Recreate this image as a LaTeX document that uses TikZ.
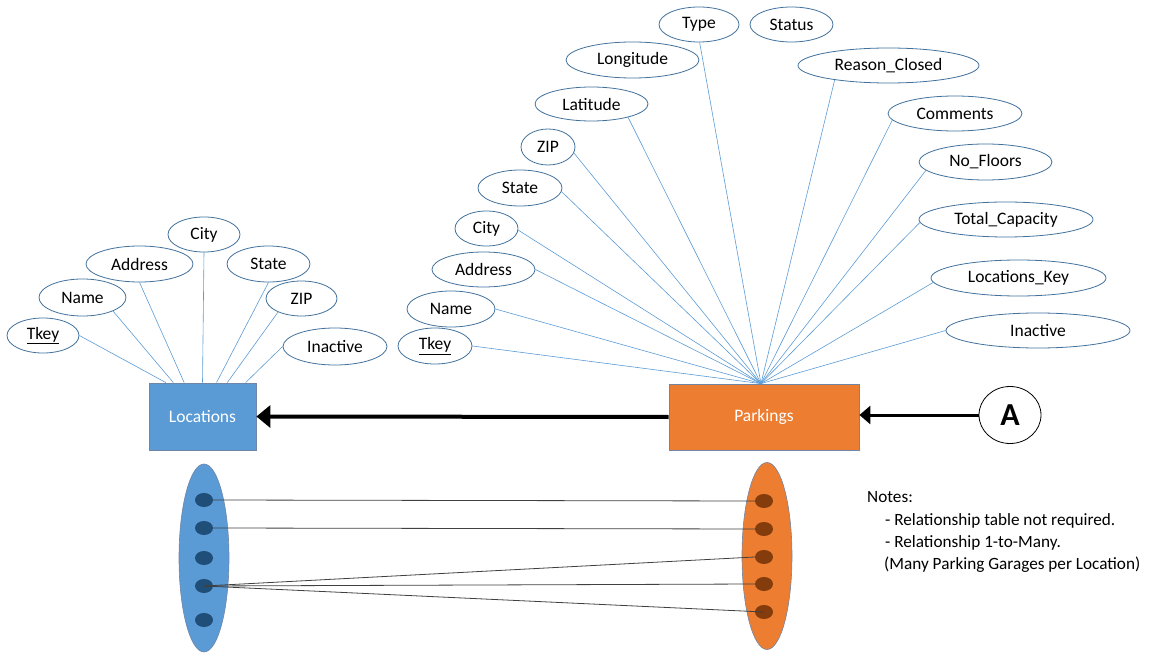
\documentclass[tikz,border=0pt]{standalone}
\usepackage{fontspec}
\setmainfont{Carlito}
\usetikzlibrary{shapes.geometric,arrows.meta,calc}
\definecolor{accblue}{HTML}{5B9BD5}
\definecolor{accorange}{HTML}{ED7D31}
\definecolor{bordblue}{HTML}{41719C}
\definecolor{rectbord}{HTML}{6F86A6}
\definecolor{dotblue}{HTML}{1F4E79}
\definecolor{dotbrown}{HTML}{843C0C}
\definecolor{linkgray}{HTML}{404040}
\begin{document}
\begin{tikzpicture}[x=1pt,y=-1pt,
  attr/.style={ellipse,draw=bordblue,line width=0.8pt,fill=white,inner sep=0pt,
    font=\fontsize{17.5}{20}\selectfont},
  entity/.style={rectangle,draw=rectbord,line width=0.8pt,inner sep=0pt,text=white,
    font=\fontsize{17.5}{20}\selectfont},
  link/.style={draw=accblue,line width=0.6pt},
  setell/.style={ellipse,draw=rectbord,line width=0.6pt,inner sep=0pt,minimum width=50pt},
  bdot/.style={ellipse,fill=dotblue,inner sep=0pt,minimum width=18pt,minimum height=14pt},
  odot/.style={ellipse,fill=dotbrown,inner sep=0pt,minimum width=18pt,minimum height=14pt},
  pair/.style={draw=linkgray,line width=0.8pt},
  rel/.style={draw=black,line width=4pt,-{Triangle[length=14pt,width=22pt]}},
  relA/.style={draw=black,line width=3pt,-{Triangle[length=11pt,width=18pt]}},
  note/.style={anchor=base west,inner sep=0pt,font=\fontsize{17.2}{20}\selectfont}]
\useasboundingbox (0,0) rectangle (1160,655);

% ---------- Locations entity ----------
\node[entity,fill=accblue,minimum width=107pt,minimum height=67pt] (loc) at (202.5,416.5) {Locations};
\node[attr,minimum width=72pt,minimum height=35pt] (ltk) at (43,335.5) {\underline{Tkey}};
\node[attr,minimum width=87pt,minimum height=37pt] (lname) at (82.5,297.5) {Name};
\node[attr,minimum width=107pt,minimum height=36pt] (laddr) at (139.5,264) {Address};
\node[attr,minimum width=72pt,minimum height=35pt] (lcity) at (204,234.5) {City};
\node[attr,minimum width=83pt,minimum height=36pt] (lstate) at (268.5,264) {State};
\node[attr,minimum width=71pt,minimum height=35pt] (lzip) at (301.5,298.5) {ZIP};
\node[attr,minimum width=104pt,minimum height=37pt] (linact) at (335,346.5) {Inactive};

\coordinate (t1) at ($(loc.north west)!0.16!(loc.north east)$);
\coordinate (t2) at ($(loc.north west)!0.23!(loc.north east)$);
\coordinate (t3) at ($(loc.north west)!0.33!(loc.north east)$);
\coordinate (t4) at ($(loc.north west)!0.50!(loc.north east)$);
\coordinate (t5) at ($(loc.north west)!0.63!(loc.north east)$);
\coordinate (t6) at ($(loc.north west)!0.73!(loc.north east)$);
\coordinate (t7) at ($(loc.north west)!0.90!(loc.north east)$);
\draw[link] (ltk.east) -- (t1);
\draw[link] (lname.336) -- (t2);
\draw[link] (laddr.south) -- (t3);
\draw[link] (lcity.south) -- (t4);
\draw[link] (lstate.south) -- (t5);
\draw[link] (lzip.210) -- (t6);
\draw[link] (linact.west) -- (t7);

% ---------- Parkings entity ----------
\node[entity,fill=accorange,minimum width=190pt,minimum height=66pt] (park) at (764,417) {Parkings};
\coordinate (hub) at ($(park.north west)!0.484!(park.north east)$);

\node[attr,minimum width=80pt,minimum height=35pt] (type) at (699,24.5) {Type};
\node[attr,minimum width=83pt,minimum height=35pt] (status) at (791.5,24.5) {Status};
\node[attr,minimum width=133pt,minimum height=36pt] (long) at (632.5,60) {Longitude};
\node[attr,minimum width=113pt,minimum height=34pt] (lat) at (591.5,104) {Latitude};
\node[attr,minimum width=54pt,minimum height=36pt] (pzip) at (548,147) {ZIP};
\node[attr,minimum width=84pt,minimum height=36pt] (pstate) at (520,188) {State};
\node[attr,minimum width=63pt,minimum height=35pt] (pcity) at (486.5,228.5) {City};
\node[attr,minimum width=103pt,minimum height=35pt] (paddr) at (483.5,269.5) {Address};
\node[attr,minimum width=88pt,minimum height=36pt] (pname) at (451,309) {Name};
\node[attr,minimum width=74pt,minimum height=36pt] (ptk) at (435,346) {\underline{Tkey}};
\node[attr,minimum width=181pt,minimum height=35pt] (reason) at (888.5,65.5) {Reason\_Closed};
\node[attr,minimum width=134pt,minimum height=35pt] (comments) at (955,113.5) {Comments};
\node[attr,minimum width=133pt,minimum height=36pt] (floors) at (985.5,162) {No\_Floors};
\node[attr,minimum width=174pt,minimum height=35pt] (cap) at (1006,219.5) {Total\_Capacity};
\node[attr,minimum width=175pt,minimum height=36pt] (lockey) at (1018.5,278) {Locations\_Key};
\node[attr,minimum width=184pt,minimum height=35pt] (pinact) at (1038,330.5) {Inactive};

\draw[link] (type.272) -- (hub);
\draw[link] (lat.340) -- (hub);
\draw[link] (pzip.347) -- (hub);
\draw[link] (pstate.355) -- (hub);
\draw[link] (pcity.357) -- (hub);
\draw[link] (paddr.east) -- (hub);
\draw[link] (pname.east) -- (hub);
\draw[link] (ptk.east) -- (hub);
\draw[link] (reason.195) -- (hub);
\draw[link] (comments.186) -- (hub);
\draw[link] (floors.188) -- (hub);
\draw[link] (cap.182) -- (hub);
\draw[link] (lockey.183) -- (hub);
\draw[link] (pinact.west) -- (hub);

% ---------- relationship arrows ----------
\draw[rel] (park.west) -- (loc.east);
\node[ellipse,draw=black,line width=0.8pt,fill=white,inner sep=0pt,minimum width=62pt,minimum height=57pt,
  font=\fontsize{32}{34}\selectfont\bfseries] (A) at (1010,415) {A};
\draw[relA] (A.west) -- (A.west -| park.east);

% ---------- instance diagram ----------
\node[setell,fill=accblue,minimum height=188pt] (bell) at (204,558) {};
\node[setell,fill=accorange,minimum height=187pt] (oell) at (767,556) {};
\node[bdot] (b1) at (204,500) {};
\node[bdot] (b2) at (204,528) {};
\node[bdot] (b3) at (204,558) {};
\node[bdot] (b4) at (204,586) {};
\node[bdot] (b5) at (204,620) {};
\node[odot] (o1) at (764,501) {};
\node[odot] (o2) at (764,529) {};
\node[odot] (o3) at (764,557) {};
\node[odot] (o4) at (764,584) {};
\node[odot] (o5) at (764,612) {};
\draw[pair] (b1.east) -- (o1.west);
\draw[pair] (b2.east) -- (o2.west);
\draw[pair] (b4.center) -- (o3.west);
\draw[pair] (b4.center) -- (o4.west);
\draw[pair] (b4.center) -- (o5.center);

% ---------- notes ----------
\node[note] (n1) at (867,502) {Notes:};
\node[note] (n2) at (885,525) {- Relationship table not required.};
\node[note] (n3) at (885,547) {- Relationship 1-to-Many.};
\node[note] (n4) at (884,569) {(Many Parking Garages per Location)};
\end{tikzpicture}
\end{document}
